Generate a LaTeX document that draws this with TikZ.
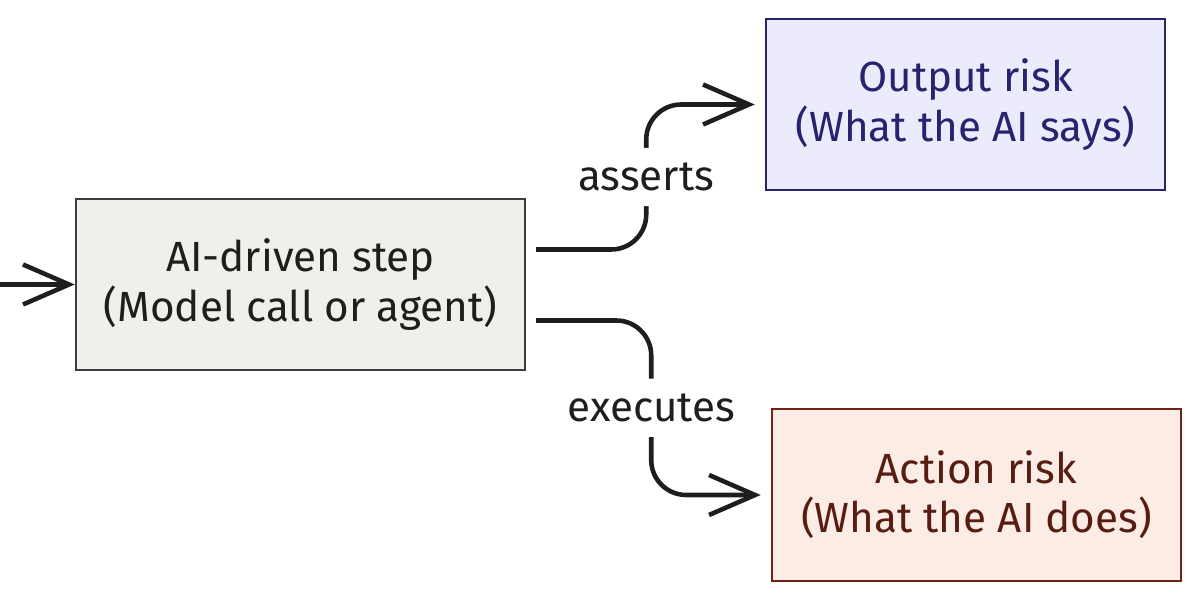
\documentclass[tikz,border=0pt]{standalone}
\usepackage{fontspec}
\setmainfont{Fira Sans}
\usepackage{tikz}
\usetikzlibrary{positioning,arrows.meta,calc}
\definecolor{cgray}{RGB}{60,60,60}
\definecolor{cgrayfill}{RGB}{241,239,233}
\definecolor{cnavy}{RGB}{40,35,110}
\definecolor{cnavyfill}{RGB}{235,235,252}
\definecolor{cbrown}{RGB}{110,35,20}
\definecolor{cbrownfill}{RGB}{251,236,230}
\definecolor{cink}{RGB}{30,30,30}

\begin{document}
\begin{tikzpicture}[
  font=\fontsize{12}{14}\selectfont,
  box/.style={draw, line width=0.7pt, align=center, inner sep=0pt},
  link/.style={draw=cink, line width=1.3pt, rounded corners=3.5mm,
    -{Straight Barb[length=4.6mm, width=4mm, line width=1.3pt]}},
  lbl/.style={fill=white, text=cink, inner sep=1.5mm}
]
\useasboundingbox (0,0) rectangle (12,6);

% STEP
\node[box, draw=cgray, fill=cgrayfill, text=cink, minimum width=44.9mm, minimum height=17.1mm]
  (step) at (3.005,3.155) {AI-driven step\\(Model call or agent)};

% OUTPUT RISK
\node[box, draw=cnavy, fill=cnavyfill, text=cnavy, minimum width=39.9mm, minimum height=17.1mm]
  (out) at (9.655,4.955) {Output risk\\(What the AI says)};

% ACTION RISK
\node[box, draw=cbrown, fill=cbrownfill, text=cbrown!80!black, minimum width=40.9mm, minimum height=17.2mm]
  (act) at (9.765,1.05) {Action risk\\(What the AI does)};

% CONNECTORS
\coordinate (src) at (0,3.155);
\coordinate (a1) at ($(step.east)+(0.1,0.35)$);
\coordinate (a2) at ($(step.east)+(0.1,-0.36)$);
\draw[link, rounded corners=0pt, line width=1.6pt] (src) -- (step.west);
\draw[link, shorten >=1mm] (a1) -- ++(1.1,0) |- node[lbl, pos=0.25] {asserts} (out.west);
\draw[link, shorten >=1mm] (a2) -- ++(1.15,0) |- node[lbl, pos=0.25] {executes} (act.west);

\end{tikzpicture}
\end{document}
